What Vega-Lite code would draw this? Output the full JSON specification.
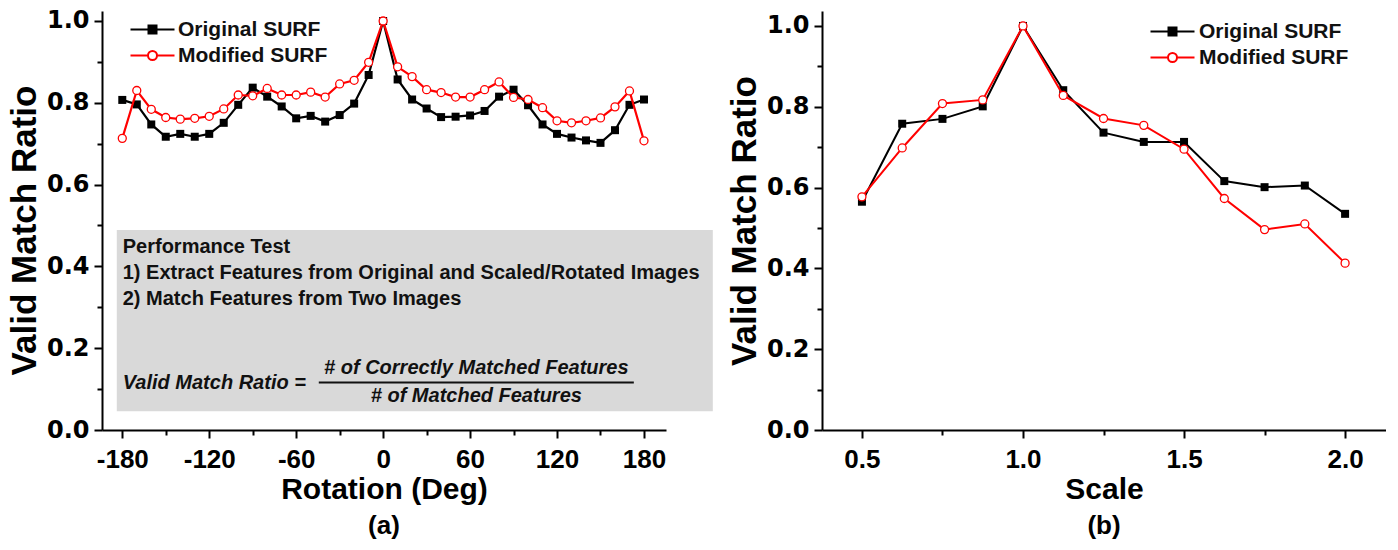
{
  "$schema": "https://vega.github.io/schema/vega-lite/v6.json",
  "background": "white",
  "padding": {"left": 7, "top": 8, "right": 0, "bottom": 0},
  "datasets": {
    "rot": [
      {"angle": -180, "series": "Original SURF", "ratio": 0.807},
      {"angle": -170, "series": "Original SURF", "ratio": 0.796},
      {"angle": -160, "series": "Original SURF", "ratio": 0.747},
      {"angle": -150, "series": "Original SURF", "ratio": 0.717},
      {"angle": -140, "series": "Original SURF", "ratio": 0.724},
      {"angle": -130, "series": "Original SURF", "ratio": 0.717},
      {"angle": -120, "series": "Original SURF", "ratio": 0.724},
      {"angle": -110, "series": "Original SURF", "ratio": 0.751},
      {"angle": -100, "series": "Original SURF", "ratio": 0.795},
      {"angle": -90, "series": "Original SURF", "ratio": 0.837},
      {"angle": -80, "series": "Original SURF", "ratio": 0.815},
      {"angle": -70, "series": "Original SURF", "ratio": 0.791},
      {"angle": -60, "series": "Original SURF", "ratio": 0.762},
      {"angle": -50, "series": "Original SURF", "ratio": 0.768},
      {"angle": -40, "series": "Original SURF", "ratio": 0.754},
      {"angle": -30, "series": "Original SURF", "ratio": 0.770},
      {"angle": -20, "series": "Original SURF", "ratio": 0.798},
      {"angle": -10, "series": "Original SURF", "ratio": 0.868},
      {"angle": 0, "series": "Original SURF", "ratio": 1.0},
      {"angle": 10, "series": "Original SURF", "ratio": 0.857},
      {"angle": 20, "series": "Original SURF", "ratio": 0.808},
      {"angle": 30, "series": "Original SURF", "ratio": 0.786},
      {"angle": 40, "series": "Original SURF", "ratio": 0.765},
      {"angle": 50, "series": "Original SURF", "ratio": 0.766},
      {"angle": 60, "series": "Original SURF", "ratio": 0.769},
      {"angle": 70, "series": "Original SURF", "ratio": 0.780},
      {"angle": 80, "series": "Original SURF", "ratio": 0.815},
      {"angle": 90, "series": "Original SURF", "ratio": 0.832},
      {"angle": 100, "series": "Original SURF", "ratio": 0.794},
      {"angle": 110, "series": "Original SURF", "ratio": 0.747},
      {"angle": 120, "series": "Original SURF", "ratio": 0.724},
      {"angle": 130, "series": "Original SURF", "ratio": 0.715},
      {"angle": 140, "series": "Original SURF", "ratio": 0.708},
      {"angle": 150, "series": "Original SURF", "ratio": 0.702},
      {"angle": 160, "series": "Original SURF", "ratio": 0.733},
      {"angle": 170, "series": "Original SURF", "ratio": 0.795},
      {"angle": 180, "series": "Original SURF", "ratio": 0.808},
      {"angle": -180, "series": "Modified SURF", "ratio": 0.713},
      {"angle": -170, "series": "Modified SURF", "ratio": 0.830},
      {"angle": -160, "series": "Modified SURF", "ratio": 0.784},
      {"angle": -150, "series": "Modified SURF", "ratio": 0.764},
      {"angle": -140, "series": "Modified SURF", "ratio": 0.760},
      {"angle": -130, "series": "Modified SURF", "ratio": 0.762},
      {"angle": -120, "series": "Modified SURF", "ratio": 0.767},
      {"angle": -110, "series": "Modified SURF", "ratio": 0.785},
      {"angle": -100, "series": "Modified SURF", "ratio": 0.819},
      {"angle": -90, "series": "Modified SURF", "ratio": 0.817},
      {"angle": -80, "series": "Modified SURF", "ratio": 0.835},
      {"angle": -70, "series": "Modified SURF", "ratio": 0.819},
      {"angle": -60, "series": "Modified SURF", "ratio": 0.819},
      {"angle": -50, "series": "Modified SURF", "ratio": 0.826},
      {"angle": -40, "series": "Modified SURF", "ratio": 0.814},
      {"angle": -30, "series": "Modified SURF", "ratio": 0.846},
      {"angle": -20, "series": "Modified SURF", "ratio": 0.855},
      {"angle": -10, "series": "Modified SURF", "ratio": 0.899},
      {"angle": 0, "series": "Modified SURF", "ratio": 1.0},
      {"angle": 10, "series": "Modified SURF", "ratio": 0.888},
      {"angle": 20, "series": "Modified SURF", "ratio": 0.864},
      {"angle": 30, "series": "Modified SURF", "ratio": 0.832},
      {"angle": 40, "series": "Modified SURF", "ratio": 0.825},
      {"angle": 50, "series": "Modified SURF", "ratio": 0.814},
      {"angle": 60, "series": "Modified SURF", "ratio": 0.814},
      {"angle": 70, "series": "Modified SURF", "ratio": 0.832},
      {"angle": 80, "series": "Modified SURF", "ratio": 0.851},
      {"angle": 90, "series": "Modified SURF", "ratio": 0.813},
      {"angle": 100, "series": "Modified SURF", "ratio": 0.808},
      {"angle": 110, "series": "Modified SURF", "ratio": 0.788},
      {"angle": 120, "series": "Modified SURF", "ratio": 0.756},
      {"angle": 130, "series": "Modified SURF", "ratio": 0.751},
      {"angle": 140, "series": "Modified SURF", "ratio": 0.756},
      {"angle": 150, "series": "Modified SURF", "ratio": 0.763},
      {"angle": 160, "series": "Modified SURF", "ratio": 0.790},
      {"angle": 170, "series": "Modified SURF", "ratio": 0.829},
      {"angle": 180, "series": "Modified SURF", "ratio": 0.707}
    ],
    "scale": [
      {"scale": 0.5, "series": "Original SURF", "ratio": 0.565},
      {"scale": 0.625, "series": "Original SURF", "ratio": 0.758},
      {"scale": 0.75, "series": "Original SURF", "ratio": 0.770},
      {"scale": 0.875, "series": "Original SURF", "ratio": 0.801},
      {"scale": 1.0, "series": "Original SURF", "ratio": 1.0},
      {"scale": 1.125, "series": "Original SURF", "ratio": 0.841},
      {"scale": 1.25, "series": "Original SURF", "ratio": 0.736},
      {"scale": 1.375, "series": "Original SURF", "ratio": 0.713},
      {"scale": 1.5, "series": "Original SURF", "ratio": 0.713},
      {"scale": 1.625, "series": "Original SURF", "ratio": 0.616},
      {"scale": 1.75, "series": "Original SURF", "ratio": 0.601},
      {"scale": 1.875, "series": "Original SURF", "ratio": 0.605},
      {"scale": 2.0, "series": "Original SURF", "ratio": 0.535},
      {"scale": 0.5, "series": "Modified SURF", "ratio": 0.577},
      {"scale": 0.625, "series": "Modified SURF", "ratio": 0.698},
      {"scale": 0.75, "series": "Modified SURF", "ratio": 0.808},
      {"scale": 0.875, "series": "Modified SURF", "ratio": 0.817},
      {"scale": 1.0, "series": "Modified SURF", "ratio": 1.0},
      {"scale": 1.125, "series": "Modified SURF", "ratio": 0.828},
      {"scale": 1.25, "series": "Modified SURF", "ratio": 0.771},
      {"scale": 1.375, "series": "Modified SURF", "ratio": 0.754},
      {"scale": 1.5, "series": "Modified SURF", "ratio": 0.695},
      {"scale": 1.625, "series": "Modified SURF", "ratio": 0.573},
      {"scale": 1.75, "series": "Modified SURF", "ratio": 0.496},
      {"scale": 1.875, "series": "Modified SURF", "ratio": 0.510},
      {"scale": 2.0, "series": "Modified SURF", "ratio": 0.413}
    ]
  },
  "spacing": 14,
  "resolve": {"scale": {"color": "independent", "x": "independent", "y": "independent"}, "legend": {"color": "independent"}},
  "hconcat": [
    {
      "width": 564,
      "height": 419,
      "title": {"text": "(a)", "orient": "bottom", "frame": "group", "anchor": "middle", "fontSize": 26, "fontWeight": "bold", "font": "Liberation Sans", "color": "black", "offset": 9},
      "data": {"name": "rot"},
      "layer": [
        {
          "data": {"values": [{}]},
          "mark": {"type": "rect", "color": "#d9d9d9"},
          "encoding": {
            "x": {"datum": -183.8, "type": "quantitative"},
            "x2": {"datum": 227.5},
            "y": {"datum": 0.046, "type": "quantitative"},
            "y2": {"datum": 0.489}
          }
        },
        {
          "data": {"values": [{}]},
          "mark": {"type": "text", "text": "Performance Test", "align": "left", "baseline": "middle", "fontSize": 20, "fontWeight": "bold", "color": "#111111"},
          "encoding": {"x": {"datum": -179.7, "type": "quantitative"}, "y": {"datum": 0.447, "type": "quantitative"}}
        },
        {
          "data": {"values": [{}]},
          "mark": {"type": "text", "text": "1) Extract Features from Original and Scaled/Rotated Images", "align": "left", "baseline": "middle", "fontSize": 20, "fontWeight": "bold", "color": "#111111"},
          "encoding": {"x": {"datum": -179.7, "type": "quantitative"}, "y": {"datum": 0.384, "type": "quantitative"}}
        },
        {
          "data": {"values": [{}]},
          "mark": {"type": "text", "text": "2) Match Features from Two Images", "align": "left", "baseline": "middle", "fontSize": 20, "fontWeight": "bold", "color": "#111111"},
          "encoding": {"x": {"datum": -179.7, "type": "quantitative"}, "y": {"datum": 0.320, "type": "quantitative"}}
        },
        {
          "data": {"values": [{}]},
          "mark": {"type": "text", "text": "Valid Match Ratio =", "align": "left", "baseline": "middle", "fontSize": 20, "fontWeight": "bold", "fontStyle": "italic", "color": "#111111"},
          "encoding": {"x": {"datum": -179.7, "type": "quantitative"}, "y": {"datum": 0.116, "type": "quantitative"}}
        },
        {
          "data": {"values": [{}]},
          "mark": {"type": "text", "text": "# of Correctly Matched Features", "align": "center", "baseline": "middle", "fontSize": 20, "fontWeight": "bold", "fontStyle": "italic", "color": "#111111"},
          "encoding": {"x": {"datum": 64.3, "type": "quantitative"}, "y": {"datum": 0.152, "type": "quantitative"}}
        },
        {
          "data": {"values": [{}]},
          "mark": {"type": "text", "text": "# of Matched Features", "align": "center", "baseline": "middle", "fontSize": 20, "fontWeight": "bold", "fontStyle": "italic", "color": "#111111"},
          "encoding": {"x": {"datum": 64.3, "type": "quantitative"}, "y": {"datum": 0.083, "type": "quantitative"}}
        },
        {
          "data": {"values": [{}]},
          "mark": {"type": "rule", "color": "#111111", "strokeWidth": 2},
          "encoding": {"x": {"datum": -44.4, "type": "quantitative"}, "x2": {"datum": 173}, "y": {"datum": 0.116, "type": "quantitative"}}
        },
        {
          "transform": [{"filter": "datum.series === 'Original SURF'"}],
          "mark": {"type": "line", "strokeWidth": 2.2},
          "encoding": {
            "x": {"field": "angle", "type": "quantitative"},
            "y": {"field": "ratio", "type": "quantitative"},
            "color": {"field": "series", "type": "nominal"}
          }
        },
        {
          "transform": [{"filter": "datum.series === 'Original SURF'"}],
          "mark": {"type": "point", "shape": "square", "size": 64, "filled": true, "color": "black", "opacity": 1},
          "encoding": {
            "x": {"field": "angle", "type": "quantitative"},
            "y": {"field": "ratio", "type": "quantitative"}
          }
        },
        {
          "transform": [{"filter": "datum.series === 'Modified SURF'"}],
          "mark": {"type": "line", "strokeWidth": 2.2},
          "encoding": {
            "x": {"field": "angle", "type": "quantitative",
              "scale": {"domain": [-194, 195.2], "nice": false, "zero": false},
              "axis": {"title": "Rotation (Deg)", "values": [-180, -150, -120, -90, -60, -30, 0, 30, 60, 90, 120, 150, 180],
                "labelExpr": "datum.value % 60 === 0 ? '' + datum.value : ''",
                "tickSize": {"condition": {"test": "datum.value % 60 === 0", "value": 8}, "value": 5},
                "labelOverlap": false, "labelFlush": false}},
            "y": {"field": "ratio", "type": "quantitative",
              "scale": {"domain": [0, 1.0244], "nice": false, "zero": false},
              "axis": {"title": "Valid Match Ratio", "titleY": 219, "values": [0, 0.1, 0.2, 0.3, 0.4, 0.5, 0.6, 0.7, 0.8, 0.9, 1.0],
                "labelExpr": "round(datum.value * 10) % 2 === 0 ? format(datum.value, '.1f') : ''",
                "tickSize": {"condition": {"test": "round(datum.value * 10) % 2 === 0", "value": 8}, "value": 5},
                "labelOverlap": false, "labelFlush": false}},
            "color": {"field": "series", "type": "nominal",
              "scale": {"domain": ["Original SURF", "Modified SURF"], "range": ["black", "#ff0000"]},
              "legend": {"orient": "none", "legendX": 40, "legendY": 8, "title": null, "padding": 0, "rowPadding": 4,
                "labelFontSize": 21, "labelFont": "Liberation Sans", "labelFontWeight": "bold", "labelColor": "#111111", "labelOffset": 15,
                "symbolSize": 100,
                "encode": {"symbols": {"update": {
                  "shape": {"signal": "datum.value === 'Original SURF' ? 'M-4.4,0H4.4M-0.8,-0.8H0.8V0.8H-0.8Z' : 'M-4.4,0H-0.9M0.9,0H4.4M0.9,0A0.9,0.9,0,1,1,-0.9,0A0.9,0.9,0,1,1,0.9,0Z'"},
                  "fill": {"signal": "datum.value === 'Original SURF' ? 'black' : 'white'"},
                  "stroke": {"signal": "datum.value === 'Original SURF' ? 'black' : '#ff0000'"},
                  "strokeWidth": {"value": 2},
                  "fillOpacity": {"value": 1},
                  "opacity": {"value": 1}}}}}}
          }
        },
        {
          "transform": [{"filter": "datum.series === 'Modified SURF'"}],
          "mark": {"type": "point", "shape": "circle", "size": 64, "filled": true, "fill": "white", "stroke": "#ff0000", "strokeWidth": 1.3, "opacity": 1},
          "encoding": {
            "x": {"field": "angle", "type": "quantitative"},
            "y": {"field": "ratio", "type": "quantitative"}
          }
        }
      ]
    },
    {
      "width": 564,
      "height": 419,
      "title": {"text": "(b)", "orient": "bottom", "frame": "group", "anchor": "middle", "fontSize": 26, "fontWeight": "bold", "font": "Liberation Sans", "color": "black", "offset": 9},
      "data": {"name": "scale"},
      "layer": [
        {
          "transform": [{"filter": "datum.series === 'Original SURF'"}],
          "mark": {"type": "line", "strokeWidth": 2},
          "encoding": {
            "x": {"field": "scale", "type": "quantitative"},
            "y": {"field": "ratio", "type": "quantitative"},
            "color": {"field": "series", "type": "nominal"}
          }
        },
        {
          "transform": [{"filter": "datum.series === 'Original SURF'"}],
          "mark": {"type": "point", "shape": "square", "size": 64, "filled": true, "color": "black", "opacity": 1},
          "encoding": {
            "x": {"field": "scale", "type": "quantitative"},
            "y": {"field": "ratio", "type": "quantitative"}
          }
        },
        {
          "transform": [{"filter": "datum.series === 'Modified SURF'"}],
          "mark": {"type": "line", "strokeWidth": 2},
          "encoding": {
            "x": {"field": "scale", "type": "quantitative",
              "scale": {"domain": [0.376, 2.127], "nice": false, "zero": false},
              "axis": {"title": "Scale", "values": [0.5, 0.75, 1.0, 1.25, 1.5, 1.75, 2.0],
                "labelExpr": "round(datum.value * 4) % 2 === 0 ? format(datum.value, '.1f') : ''",
                "tickSize": {"condition": {"test": "round(datum.value * 4) % 2 === 0", "value": 8}, "value": 5},
                "labelOverlap": false, "labelFlush": false}},
            "y": {"field": "ratio", "type": "quantitative",
              "scale": {"domain": [0, 1.037], "nice": false, "zero": false},
              "axis": {"title": "Valid Match Ratio", "values": [0, 0.1, 0.2, 0.3, 0.4, 0.5, 0.6, 0.7, 0.8, 0.9, 1.0],
                "labelExpr": "round(datum.value * 10) % 2 === 0 ? format(datum.value, '.1f') : ''",
                "tickSize": {"condition": {"test": "round(datum.value * 10) % 2 === 0", "value": 8}, "value": 5},
                "labelOverlap": false, "labelFlush": false}},
            "color": {"field": "series", "type": "nominal",
              "scale": {"domain": ["Original SURF", "Modified SURF"], "range": ["black", "#ff0000"]},
              "legend": {"orient": "none", "legendX": 340, "legendY": 10, "title": null, "padding": 0, "rowPadding": 4,
                "labelFontSize": 21, "labelFont": "Liberation Sans", "labelFontWeight": "bold", "labelColor": "#111111", "labelOffset": 16,
                "symbolSize": 100,
                "encode": {"symbols": {"update": {
                  "shape": {"signal": "datum.value === 'Original SURF' ? 'M-4.4,0H4.4M-0.8,-0.8H0.8V0.8H-0.8Z' : 'M-4.4,0H-0.9M0.9,0H4.4M0.9,0A0.9,0.9,0,1,1,-0.9,0A0.9,0.9,0,1,1,0.9,0Z'"},
                  "fill": {"signal": "datum.value === 'Original SURF' ? 'black' : 'white'"},
                  "stroke": {"signal": "datum.value === 'Original SURF' ? 'black' : '#ff0000'"},
                  "strokeWidth": {"value": 2},
                  "fillOpacity": {"value": 1},
                  "opacity": {"value": 1}}}}}}
          }
        },
        {
          "transform": [{"filter": "datum.series === 'Modified SURF'"}],
          "mark": {"type": "point", "shape": "circle", "size": 64, "filled": true, "fill": "white", "stroke": "#ff0000", "strokeWidth": 1.3, "opacity": 1},
          "encoding": {
            "x": {"field": "scale", "type": "quantitative"},
            "y": {"field": "ratio", "type": "quantitative"}
          }
        }
      ]
    }
  ],
  "config": {
    "view": {"stroke": null},
    "font": "Liberation Sans",
    "axis": {"grid": false, "domainColor": "black", "domainWidth": 2, "tickColor": "black", "tickWidth": 2,
      "labelColor": "black", "labelFontWeight": "bold", "labelFont": "Liberation Sans",
      "titleColor": "black", "titleFontWeight": "bold", "titleFont": "Liberation Sans", "titleFontSize": 30},
    "axisX": {"labelFontSize": 26, "labelPadding": 8, "titlePadding": 2},
    "axisY": {"labelFont": "DejaVu Sans", "labelFontSize": 24, "labelPadding": 5, "titlePadding": 4, "titleFontSize": 35}
  }
}
